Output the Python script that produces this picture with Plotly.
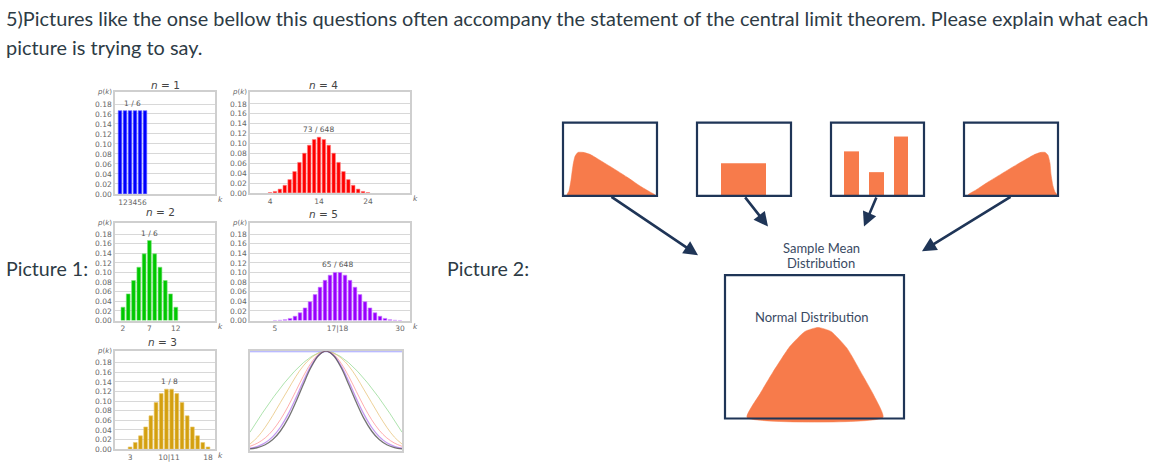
import plotly.graph_objects as go

W, H = 1165, 470


def px(x):
    return x / W


def py(y):
    return 1 - y / H


# ---------------- data: dice sums (Picture 1) ----------------
n1_k = [1, 2, 3, 4, 5, 6]
n1_counts = [1, 1, 1, 1, 1, 1]
n1_total = 6

n2_k = list(range(2, 13))
n2_counts = [1, 2, 3, 4, 5, 6, 5, 4, 3, 2, 1]
n2_total = 36

n3_k = list(range(3, 19))
n3_counts = [1, 3, 6, 10, 15, 21, 25, 27, 27, 25, 21, 15, 10, 6, 3, 1]
n3_total = 216

n4_k = list(range(4, 25))
n4_counts = [1, 4, 10, 20, 35, 56, 80, 104, 125, 140, 146, 140, 125, 104, 80, 56, 35, 20, 10, 4, 1]
n4_total = 1296

n5_k = list(range(5, 31))
n5_counts = [1, 5, 15, 35, 70, 126, 205, 305, 420, 540, 651, 735, 780, 780, 735, 651,
             540, 420, 305, 205, 126, 70, 35, 15, 5, 1]
n5_total = 7776

y_ticks = [0.00, 0.02, 0.04, 0.06, 0.08, 0.10, 0.12, 0.14, 0.16, 0.18]
y_ticklabels = ["0.00", "0.02", "0.04", "0.06", "0.08", "0.10", "0.12", "0.14", "0.16", "0.18"]

# normalised comparison curves (bottom-right panel)
curve_x = [-1.0, -0.9, -0.8, -0.7, -0.6, -0.5, -0.4, -0.3, -0.2, -0.1, 0.0,
           0.1, 0.2, 0.3, 0.4, 0.5, 0.6, 0.7, 0.8, 0.9, 1.0]
curve_n1 = [1.0] * 21
curve_n2_x = [-1.0, 0.0, 1.0]
curve_n2 = [0.18, 1.0, 0.18]
curve_n3 = [0.06, 0.13, 0.23, 0.35, 0.48, 0.61, 0.74, 0.85, 0.93, 0.98, 1.0,
            0.98, 0.93, 0.85, 0.74, 0.61, 0.48, 0.35, 0.23, 0.13, 0.06]
curve_n4 = [0.037, 0.070, 0.122, 0.200, 0.307, 0.440, 0.591, 0.744, 0.877, 0.968, 1.0,
            0.968, 0.877, 0.744, 0.591, 0.440, 0.307, 0.200, 0.122, 0.070, 0.037]
curve_n5 = [0.017, 0.037, 0.073, 0.135, 0.230, 0.360, 0.520, 0.693, 0.849, 0.960, 1.0,
            0.960, 0.849, 0.693, 0.520, 0.360, 0.230, 0.135, 0.073, 0.037, 0.017]
curve_normal = [0.010, 0.024, 0.053, 0.105, 0.192, 0.317, 0.480, 0.661, 0.832, 0.955, 1.0,
                0.955, 0.832, 0.661, 0.480, 0.317, 0.192, 0.105, 0.053, 0.024, 0.010]

# ---------------- data: Picture 2 diagram (diagram units = pixels) ----------------
box_x0 = [563, 697, 831, 964, 725]
box_x1 = [657, 791, 924, 1058, 904]
box_y0 = [124, 124, 124, 124, 278]
box_y1 = [198, 198, 198, 198, 423]

skew_right_x = [567, 569, 571, 573, 575, 578, 583, 590, 600, 613, 627, 640, 650, 655, 567]
skew_right_y = [197, 193, 182, 167, 158, 154, 154, 156, 162, 170, 179, 188, 194, 197, 197]
skew_left_x = [968, 976, 988, 1001, 1014, 1026, 1035, 1041, 1045, 1048, 1050, 1051, 1053, 1055, 1057, 968]
skew_left_y = [197, 192, 184, 176, 168, 161, 156, 154, 154, 157, 165, 176, 188, 194, 197, 197]
bell_x = [747, 760, 773, 790, 805, 818, 831, 847, 863, 874, 883, 747]
bell_y = [422, 398, 376, 350, 335, 331, 335, 352, 380, 400, 422, 422]

bars_x = [743.5, 851.5, 876.5, 901]
bars_w = [45, 15, 15, 14]
bars_top = [165, 153, 174, 138]
bars_base = 198

arrow_from_x = [610, 744, 877, 1012]
arrow_from_y = [198, 198, 198, 198]
arrow_to_x = [698, 768, 864, 922]
arrow_to_y = [258, 229, 229, 254]

TXT = "#2d3b45"
NAVY = "#1f3557"
ORANGE = "#f77b4b"

fig = go.Figure()

panels = [
    dict(k=n1_k, c=n1_counts, t=n1_total, color="#0000ff", edge="#7a7aff",
         dom=(115, 215, 93, 196), xr=[0, 20], tv=[3.5], tt=["123456"],
         title="<i>n</i> = 1", tpos=(165, 86), lab="1 / 6", labx=3.5, laby=1 / 6),
    dict(k=n2_k, c=n2_counts, t=n2_total, color="#00c800", edge="#80e080",
         dom=(115, 215, 225, 324), xr=[0.5, 19.4], tv=[2, 7, 12], tt=["2", "7", "12"],
         title="<i>n</i> = 2", tpos=(160, 214), lab="1 / 6", labx=7, laby=1 / 6),
    dict(k=n3_k, c=n3_counts, t=n3_total, color="#d4a010", edge="#e8c870",
         dom=(115, 215, 355, 454), xr=[0.1, 19.35], tv=[3, 10.5, 18], tt=["3", "10|11", "18"],
         title="<i>n</i> = 3", tpos=(162, 346), lab="1 / 8", labx=10.5, laby=0.125),
    dict(k=n4_k, c=n4_counts, t=n4_total, color="#ff0000", edge="#ff8080",
         dom=(250, 410, 93, 195), xr=[-0.1, 32.6], tv=[4, 14, 24], tt=["4", "14", "24"],
         title="<i>n</i> = 4", tpos=(323, 86), lab="73 / 648", labx=14, laby=146 / 1296),
    dict(k=n5_k, c=n5_counts, t=n5_total, color="#9900ff", edge="#c880ff",
         dom=(250, 410, 225, 324), xr=[0, 32], tv=[5, 17.5, 30], tt=["5", "17|18", "30"],
         title="<i>n</i> = 5", tpos=(323, 216), lab="65 / 648", labx=17.5, laby=780 / 7776),
]

annotations = []
layout_axes = {}
GRID = "#d8d8d8"
FRAME = "#cfcfcf"
TICKC = "#666666"

for i, p in enumerate(panels, start=1):
    xa = "x" if i == 1 else f"x{i}"
    ya = "y" if i == 1 else f"y{i}"
    probs = [c / p["t"] for c in p["c"]]
    fig.add_trace(go.Bar(x=p["k"], y=probs, width=0.72, xaxis=xa, yaxis=ya,
                         marker=dict(color=p["color"], line=dict(color=p["edge"], width=0.6)),
                         hoverinfo="skip"))
    x0, x1, y0, y1 = p["dom"]
    layout_axes["xaxis" if i == 1 else f"xaxis{i}"] = dict(
        domain=[px(x0), px(x1)], range=p["xr"], anchor=ya,
        tickvals=p["tv"], ticktext=p["tt"], tickangle=0, showgrid=False, zeroline=False,
        showline=True, mirror=True, linecolor=FRAME, linewidth=1.5,
        tickfont=dict(size=7.5, color=TICKC, family="DejaVu Sans"), ticks="", ticklen=0)
    layout_axes["yaxis" if i == 1 else f"yaxis{i}"] = dict(
        domain=[py(y1), py(y0)], range=[0, 0.204], anchor=xa,
        tickvals=y_ticks, ticktext=y_ticklabels, showgrid=True, gridcolor=GRID, gridwidth=1,
        zeroline=False, showline=True, mirror=True, linecolor=FRAME, linewidth=1.5,
        tickfont=dict(size=7.5, color=TICKC, family="DejaVu Sans"), ticks="")
    annotations.append(dict(x=px(p["tpos"][0]), y=py(p["tpos"][1]), xref="paper", yref="paper",
                            xanchor="center", yanchor="middle",
                            text=p["title"], showarrow=False,
                            font=dict(size=10.5, color="#444", family="DejaVu Sans")))
    annotations.append(dict(x=px(x0) - 0.001, y=py(y0), xref="paper", yref="paper", text="<i>p</i>(<i>k</i>)",
                            showarrow=False, xanchor="right", yanchor="middle",
                            font=dict(size=7, color=TICKC, family="DejaVu Sans")))
    annotations.append(dict(x=px(x1) + 0.001, y=py(y1 + 6), xref="paper", yref="paper", text="<i>k</i>",
                            showarrow=False, xanchor="left", yanchor="middle",
                            font=dict(size=7.5, color=TICKC, family="DejaVu Sans")))
    annotations.append(dict(x=p["labx"], y=p["laby"], xref=xa, yref=ya, text=p["lab"],
                            showarrow=False, xanchor="center", yanchor="bottom", yshift=1,
                            font=dict(size=7.5, color="#555", family="DejaVu Sans")))

# bottom-right comparison panel
curves = [
    (curve_x, curve_n1, "rgba(140,140,255,0.8)", 2.2),
    (curve_n2_x, curve_n2, "rgba(140,215,140,0.7)", 1),
    (curve_x, curve_n3, "rgba(230,190,110,0.7)", 1),
    (curve_x, curve_n4, "rgba(255,140,140,0.7)", 1),
    (curve_x, curve_n5, "rgba(170,110,235,0.7)", 1.3),
    (curve_x, curve_normal, "rgba(70,70,70,0.75)", 1.3),
]
for cx, cy, col, w in curves:
    fig.add_trace(go.Scatter(x=cx, y=cy, mode="lines", xaxis="x6", yaxis="y6",
                             line=dict(color=col, width=w, shape="spline", smoothing=1.0),
                             hoverinfo="skip"))
layout_axes["xaxis6"] = dict(domain=[px(250), px(402)], range=[-1, 1], anchor="y6",
                             showticklabels=False, showgrid=False, zeroline=False,
                             showline=True, mirror=True, linecolor=FRAME, linewidth=2, ticks="")
layout_axes["yaxis6"] = dict(domain=[py(456), py(355)], range=[-0.012, 1.0], anchor="x6",
                             showticklabels=False, showgrid=False, zeroline=False,
                             showline=True, mirror=True, linecolor=FRAME, linewidth=2, ticks="")

# Picture 2 diagram axis
for sx, sy in [(skew_right_x, skew_right_y), (skew_left_x, skew_left_y), (bell_x, bell_y)]:
    fig.add_trace(go.Scatter(x=sx, y=sy, mode="lines", fill="toself", fillcolor=ORANGE,
                             line=dict(color=ORANGE, width=0.5, shape="spline", smoothing=0.5),
                             xaxis="x7", yaxis="y7", hoverinfo="skip"))
fig.add_trace(go.Bar(x=bars_x, y=[t - bars_base for t in bars_top], base=bars_base, width=bars_w,
                     marker=dict(color=ORANGE, line=dict(width=0)), xaxis="x7", yaxis="y7",
                     hoverinfo="skip"))
layout_axes["xaxis7"] = dict(domain=[px(540), 1], range=[540, 1165], anchor="y7", visible=False)
layout_axes["yaxis7"] = dict(domain=[0, 1], range=[470, 0], anchor="x7", visible=False)

shapes = []
for a, b, c, d in zip(box_x0, box_x1, box_y0, box_y1):
    shapes.append(dict(type="rect", xref="x7", yref="y7", x0=a, x1=b, y0=c, y1=d,
                       line=dict(color=NAVY, width=2.2), fillcolor="rgba(0,0,0,0)", layer="above"))

for fx, fy, tx, ty in zip(arrow_from_x, arrow_from_y, arrow_to_x, arrow_to_y):
    annotations.append(dict(x=tx, y=ty, ax=fx, ay=fy, xref="x7", yref="y7", axref="x7", ayref="y7",
                            text="", showarrow=True, arrowhead=2, arrowsize=1.1, arrowwidth=2.6,
                            arrowcolor=NAVY))

annotations += [
    dict(x=821, y=251, xref="x7", yref="y7", text="Sample Mean", showarrow=False,
         xanchor="center", yanchor="middle", font=dict(size=13, color="#3a4a63", family="Lato")),
    dict(x=821, y=266, xref="x7", yref="y7", text="Distribution", showarrow=False,
         xanchor="center", yanchor="middle", font=dict(size=13, color="#3a4a63", family="Lato")),
    dict(x=812, y=320, xref="x7", yref="y7", text="Normal Distribution", showarrow=False,
         xanchor="center", yanchor="middle", font=dict(size=13, color="#3a4a63", family="Lato")),
]

# question text and labels
annotations += [
    dict(x=px(4), y=py(18), xref="paper", yref="paper", xanchor="left", yanchor="middle",
         text="5)Pictures like the onse bellow this questions often accompany the statement of the central limit theorem. Please explain what each",
         showarrow=False, font=dict(size=19.9, color=TXT, family="Lato")),
    dict(x=px(4), y=py(48), xref="paper", yref="paper", xanchor="left", yanchor="middle",
         text="picture is trying to say.", showarrow=False, font=dict(size=19.9, color=TXT, family="Lato")),
    dict(x=px(4), y=py(271), xref="paper", yref="paper", xanchor="left", yanchor="middle",
         text="Picture 1:", showarrow=False, font=dict(size=19.6, color=TXT, family="Lato")),
    dict(x=px(445), y=py(271), xref="paper", yref="paper", xanchor="left", yanchor="middle",
         text="Picture 2:", showarrow=False, font=dict(size=19.6, color=TXT, family="Lato")),
]

fig.update_layout(width=W, height=H, margin=dict(l=0, r=0, t=0, b=0),
                  paper_bgcolor="white", plot_bgcolor="white", showlegend=False,
                  annotations=annotations, shapes=shapes, **layout_axes)

fig.write_html("out.html")
